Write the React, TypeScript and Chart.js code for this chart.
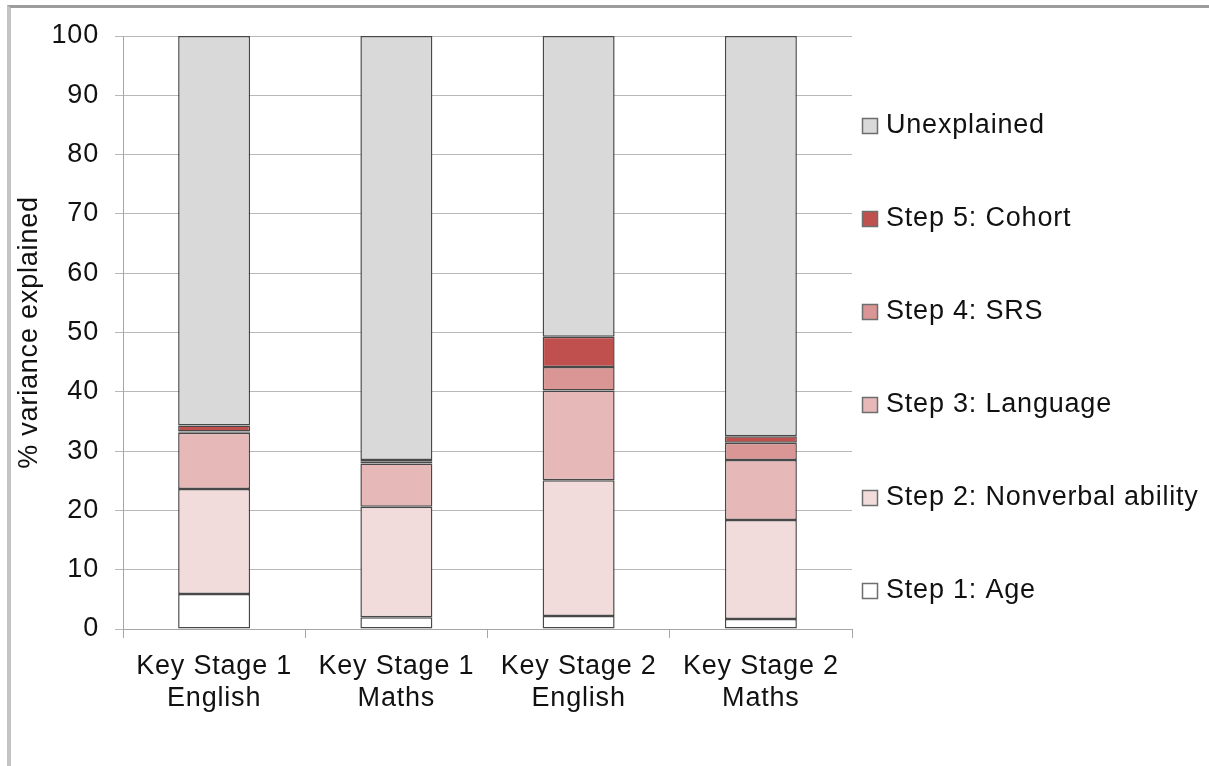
import React, { useEffect, useRef } from 'react';
import { Chart, registerables } from 'chart.js';

Chart.register(...registerables);

const categories: string[][] = [
  ['Key Stage 1', 'English'],
  ['Key Stage 1', 'Maths'],
  ['Key Stage 2', 'English'],
  ['Key Stage 2', 'Maths'],
];

const seriesNames = [
  'Step 1: Age',
  'Step 2: Nonverbal ability',
  'Step 3: Language',
  'Step 4: SRS',
  'Step 5: Cohort',
  'Unexplained',
];

const age = [5.9, 2.0, 2.2, 1.7];
const nonverbal = [17.7, 18.6, 22.9, 16.7];
const language = [9.5, 7.3, 15.1, 10.1];
const srs = [0.2, 0.3, 4.0, 2.9];
const cohort = [1.0, 0.3, 5.1, 1.1];
const unexplained = [65.7, 71.5, 50.7, 67.5];

const yTicks = [0, 10, 20, 30, 40, 50, 60, 70, 80, 90, 100];

const seriesColors = ['#ffffff', '#f2dcdb', '#e6b9b8', '#d99694', '#c0504d', '#d9d9d9'];

const FONT = '"Liberation Sans", Arial, sans-serif';
const LETTER_SPACING = '0.8px';

const spacingPlugin = {
  id: 'letterSpacing',
  beforeUpdate(chart: any) {
    chart.ctx.letterSpacing = LETTER_SPACING;
  },
  beforeLayout(chart: any) {
    chart.ctx.letterSpacing = LETTER_SPACING;
  },
  beforeDraw(chart: any) {
    chart.ctx.letterSpacing = LETTER_SPACING;
  },
};

const sideLegend = {
  id: 'sideLegend',
  afterDraw(chart: any, _args: any, opts: any) {
    const ctx = chart.ctx;
    const area = chart.chartArea;
    ctx.save();
    ctx.letterSpacing = LETTER_SPACING;
    ctx.font = `${opts.fontSize}px ${FONT}`;
    ctx.textBaseline = 'middle';
    ctx.textAlign = 'left';
    const items = chart.data.datasets.slice().reverse();
    const x = area.right + opts.offsetX;
    items.forEach((ds: any, i: number) => {
      const cy = opts.firstY + i * opts.spacing;
      const b = opts.box;
      ctx.fillStyle = ds.backgroundColor;
      ctx.fillRect(x, cy - b / 2, b, b);
      ctx.strokeStyle = '#6e6e6e';
      ctx.lineWidth = 1.5;
      ctx.strokeRect(x + 0.5, cy - b / 2 + 0.5, b - 1, b - 1);
      ctx.fillStyle = '#111111';
      ctx.fillText(ds.label, x + opts.textGap, cy);
    });
    ctx.restore();
  },
};

export default function App() {
  const canvasRef = useRef<HTMLCanvasElement | null>(null);

  useEffect(() => {
    if (!canvasRef.current) return;
    Chart.defaults.font.family = FONT;
    const values = [age, nonverbal, language, srs, cohort, unexplained];
    const chart = new Chart(canvasRef.current, {
      type: 'bar',
      data: {
        labels: categories,
        datasets: seriesNames.map((name, i) => ({
          label: name,
          data: values[i],
          backgroundColor: seriesColors[i],
          borderColor: '#484848',
          borderWidth: 1.5,
          borderSkipped: false,
          barPercentage: 0.395,
          categoryPercentage: 1,
        })),
      },
      options: {
        animation: false,
        responsive: false,
        devicePixelRatio: 1,
        layout: { padding: { left: 0, top: 36, right: 357, bottom: 0 } },
        plugins: {
          legend: { display: false },
          tooltip: { enabled: false },
          sideLegend: {
            offsetX: 10,
            firstY: 126,
            spacing: 93,
            box: 16,
            textGap: 24,
            fontSize: 27,
          },
        } as any,
        scales: {
          x: {
            stacked: true,
            offset: true,
            grid: {
              offset: true,
              drawOnChartArea: false,
              drawTicks: true,
              tickLength: 9,
              color: '#a6a6a6',
            },
            border: { display: true, color: '#a6a6a6', width: 1 },
            ticks: {
              color: '#111111',
              font: { size: 27, lineHeight: 1.2 },
              padding: 12,
              maxRotation: 0,
              autoSkip: false,
            },
            afterFit: (scale: any) => {
              scale.height = 766 - 629;
            },
          },
          y: {
            stacked: true,
            min: 0,
            max: 100,
            afterBuildTicks: (scale: any) => {
              scale.ticks = yTicks.map((v) => ({ value: v }));
            },
            grid: {
              color: '#b8b8b8',
              drawTicks: true,
              tickLength: 8,
            },
            border: { display: true, color: '#a6a6a6', width: 1 },
            ticks: {
              color: '#111111',
              font: { size: 27 },
              padding: 16,
            },
            title: {
              display: true,
              text: '% variance explained',
              color: '#111111',
              font: { size: 27, lineHeight: 1.2 },
              padding: { top: 13, bottom: 0 },
            },
            afterFit: (scale: any) => {
              scale.width = 123;
            },
          },
        },
      },
      plugins: [spacingPlugin, sideLegend],
    });
    return () => chart.destroy();
  }, []);

  return (
    <div
      style={{
        position: 'fixed',
        left: 0,
        top: 0,
        width: 1209,
        height: 766,
        overflow: 'hidden',
        background: '#ffffff',
      }}
    >
      <div
        style={{
          position: 'absolute',
          left: 7,
          top: 5,
          width: 1400,
          height: 1000,
          borderLeft: '4px solid #c4c4c4',
          borderTop: '3px solid #9c9c9c',
          boxSizing: 'border-box',
        }}
      />
      <canvas
        ref={canvasRef}
        width={1209}
        height={766}
        style={{ position: 'absolute', left: 0, top: 0, width: 1209, height: 766 }}
      />
    </div>
  );
}
